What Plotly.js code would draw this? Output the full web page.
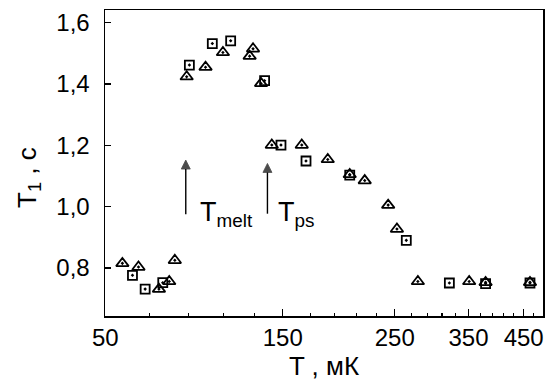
<!DOCTYPE html>
<html>
<head>
<meta charset="utf-8">
<script src="https://cdn.plot.ly/plotly-3.0.1.min.js"></script>
<style>html,body{margin:0;padding:0;background:#fff;}#chart{width:546px;height:383px;}</style>
</head>
<body>
<div id="chart"></div>
<script>
// Series 1: triangles
const triTemp = [72.2, 77.7, 85.3, 89.4, 91.7, 96.8, 105.5, 114.2, 129.0, 131.0, 135.9, 142.7, 163.6, 184.2, 203.6, 218.0, 242.6, 252.5, 277.8, 351.0, 378.3, 463.2];
const triT1   = [0.815, 0.803, 0.731, 0.756, 0.825, 1.424, 1.455, 1.503, 1.491, 1.515, 1.402, 1.201, 1.201, 1.154, 1.105, 1.085, 1.005, 0.927, 0.756, 0.756, 0.753, 0.753];
// Series 2: squares
const sqTemp = [75.6, 80.1, 86.8, 98.0, 108.8, 118.3, 138.1, 148.8, 166.8, 203.6, 263.5, 320.7, 378.3, 463.2];
const sqT1   = [0.776, 0.731, 0.752, 1.462, 1.532, 1.541, 1.411, 1.201, 1.149, 1.103, 0.890, 0.751, 0.749, 0.751];
// Marked temperatures (arrows)
const markNames = ['T<sub>melt</sub>', 'T<sub>ps</sub>'];
const markTemp  = [96.4, 139.9];
// Tick labels
const xTickVals = [66.8, 150, 250, 350, 450];
const xTickText = ['50', '150', '250', '350', '450'];
const xMinorVals = [81.6, 97.5, 114.4, 131.8, 170, 190, 210, 230, 270, 290, 310, 330, 370, 390, 410, 430, 470];

const FONT = 'Liberation Sans, Arial, Helvetica, sans-serif';

const traces = [
  {
    x: triTemp, y: triT1, type: 'scatter', mode: 'markers',
    marker: {symbol: 'triangle-up-open-dot', size: 11, color: '#000', line: {width: 1.8, color: '#000'}},
    hoverinfo: 'x+y'
  },
  {
    x: sqTemp, y: sqT1, type: 'scatter', mode: 'markers',
    marker: {symbol: 'square-open-dot', size: 9, color: '#000', line: {width: 1.8, color: '#000'}},
    hoverinfo: 'x+y'
  }
];

// arrows: shaft + head
const arrowBase = [0.975, 0.977];
const arrowTip = [1.152, 1.141];
markTemp.forEach(function (t, i) {
  traces.push({
    x: [t, t], y: [arrowBase[i], arrowTip[i]], type: 'scatter', mode: 'lines+markers',
    line: {color: '#000', width: 1.4},
    marker: {symbol: ['circle', 'arrow-up'], size: [0, 9], color: '#000', line: {width: [0, 0.8], color: '#000'}},
    hoverinfo: 'skip'
  });
});

const layout = {
  width: 546, height: 383,
  margin: {l: 105, r: 3, t: 10, b: 67},
  paper_bgcolor: '#fff', plot_bgcolor: '#fff',
  showlegend: false,
  separators: ', ',
  font: {family: FONT, size: 24, color: '#000'},
  xaxis: {
    type: 'log',
    range: [Math.log10(66.7), Math.log10(491.5)],
    tickmode: 'array', tickvals: xTickVals, ticktext: xTickText,
    ticks: 'inside', ticklen: 7, tickwidth: 1.3, tickcolor: '#000',
    minor: {tickmode: 'array', tickvals: xMinorVals, ticks: 'inside', ticklen: 3.5, tickwidth: 1.3, tickcolor: '#000', showgrid: false},
    showline: true, linewidth: 1.5, linecolor: '#000', mirror: true,
    showgrid: false, zeroline: false,
    tickfont: {family: FONT, size: 24, color: '#000'},
    ticklabelstandoff: 0,
    title: {text: 'T , мК', font: {family: FONT, size: 26, color: '#000'}, standoff: 6}
  },
  yaxis: {
    range: [0.6433, 1.6415],
    tick0: 0, dtick: 0.2, tickformat: '.1f',
    ticks: 'inside', ticklen: 6, tickwidth: 1.3, tickcolor: '#000',
    showline: true, linewidth: 1.5, linecolor: '#000', mirror: true,
    showgrid: false, zeroline: false,
    tickfont: {family: FONT, size: 24, color: '#000'},
    ticklabelstandoff: 9
  },
  annotations: [
    {text: 'T<sub>1</sub> , c', xref: 'paper', yref: 'paper', x: (28 - 105) / 438, y: (316 - 178) / 306,
     xanchor: 'center', yanchor: 'middle', textangle: -90, showarrow: false,
     font: {family: FONT, size: 26, color: '#000'}},
    {text: markNames[0], xref: 'paper', yref: 'paper', x: (199 - 105) / 438, y: (316 - 214) / 306,
     xanchor: 'left', yanchor: 'middle', showarrow: false, borderpad: 0,
     font: {family: FONT, size: 27, color: '#000'}},
    {text: markNames[1], xref: 'paper', yref: 'paper', x: (277 - 105) / 438, y: (316 - 214) / 306,
     xanchor: 'left', yanchor: 'middle', showarrow: false, borderpad: 0,
     font: {family: FONT, size: 27, color: '#000'}}
  ]
};

Plotly.newPlot('chart', traces, layout, {displayModeBar: false, staticPlot: true});
</script>
</body>
</html>
